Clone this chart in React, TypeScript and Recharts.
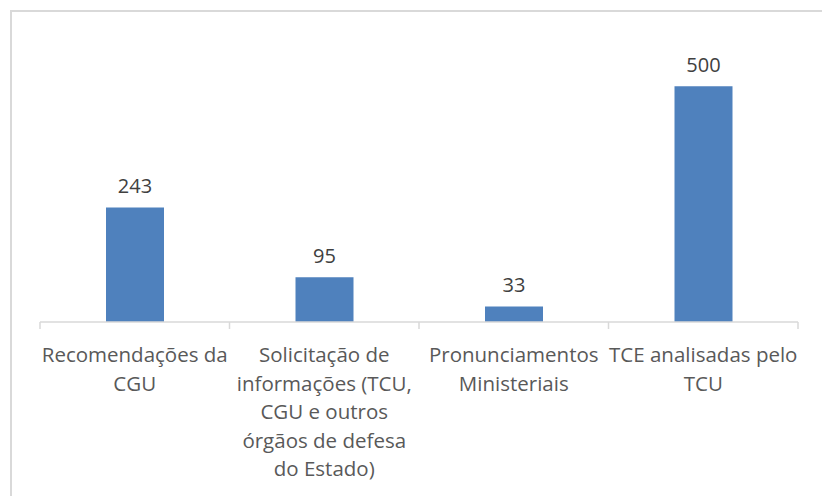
import React from "react";
import { BarChart, Bar, XAxis, YAxis, LabelList } from "recharts";

const categories = [
  ["Recomendações da", "CGU"],
  ["Solicitação de", "informações (TCU,", "CGU e outros", "órgãos de defesa", "do Estado)"],
  ["Pronunciamentos", "Ministeriais"],
  ["TCE analisadas pelo", "TCU"],
];
const values = [243, 95, 33, 500];

const chartData = categories.map((lines, i) => ({
  name: lines.join(" "),
  value: values[i],
}));

const BAND = 189.5;
const FONT = "'Open Sans', 'Noto Sans', sans-serif";

const CategoryTick = (props: any) => {
  const { x, index, payload } = props;
  const lines = categories[index] ?? [payload.value];
  const axisY = 322;
  return (
    <g>
      <line x1={x - BAND / 2} x2={x - BAND / 2} y1={axisY} y2={axisY + 7} stroke="#d9d9d9" strokeWidth={1.5} />
      {index === categories.length - 1 && (
        <line x1={x + BAND / 2} x2={x + BAND / 2} y1={axisY} y2={axisY + 7} stroke="#d9d9d9" strokeWidth={1.5} />
      )}
      <text x={x} y={axisY + 40} textAnchor="middle" fill="#595959" fontSize={20.5} fontFamily={FONT}>
        {lines.map((l: string, i: number) => (
          <tspan key={i} x={x} dy={i === 0 ? 0 : 28.5}>
            {l}
          </tspan>
        ))}
      </text>
    </g>
  );
};

export default function App() {
  return (
    <div style={{ position: "fixed", left: 0, top: 0, width: 822, height: 496, background: "#fff", overflow: "hidden" }}>
      <div
        style={{
          position: "absolute",
          left: 10,
          top: 10,
          width: 830,
          height: 500,
          border: "2px solid #d9d9d9",
          boxSizing: "border-box",
        }}
      />
      <div style={{ position: "absolute", left: 0, top: 0 }}>
        <BarChart
          width={822}
          height={496}
          data={chartData}
          margin={{ top: 39, right: 24, bottom: 0, left: 40 }}
          barSize={58}
        >
          <XAxis
            dataKey="name"
            height={174}
            interval={0}
            axisLine={{ stroke: "#d9d9d9", strokeWidth: 1.5 }}
            tickLine={false}
            tick={<CategoryTick />}
          />
          <YAxis hide domain={[0, 600]} />
          <Bar dataKey="value" fill="#4f81bd" isAnimationActive={false}>
            <LabelList
              dataKey="value"
              position="top"
              offset={14}
              fill="#404040"
              fontSize={20}
              fontFamily={FONT}
            />
          </Bar>
        </BarChart>
      </div>
    </div>
  );
}
